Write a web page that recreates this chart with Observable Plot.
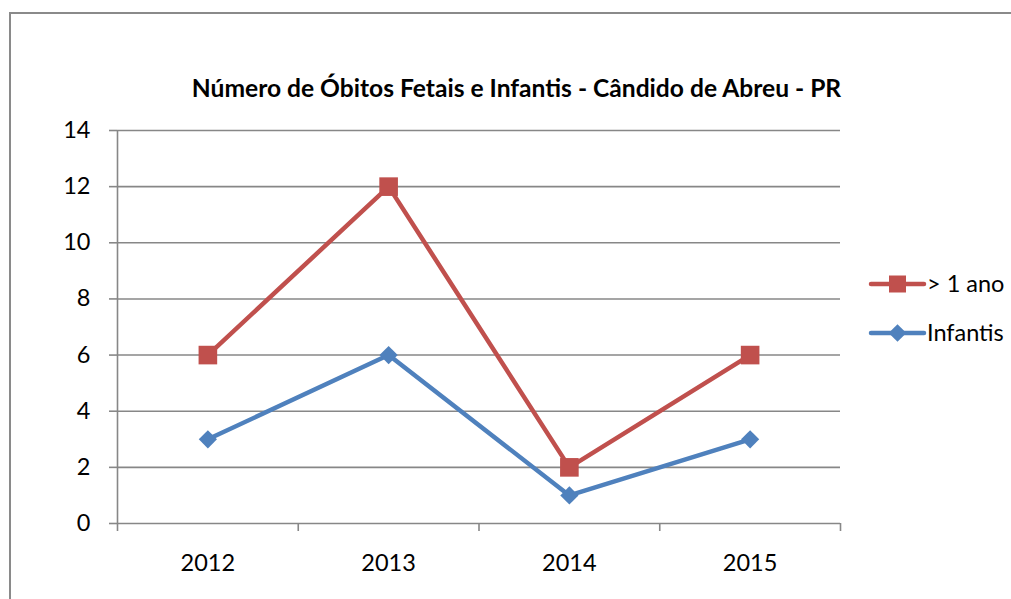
<!DOCTYPE html>
<html>
<head>
<meta charset="utf-8">
<script src="https://cdn.jsdelivr.net/npm/d3@7"></script>
<script src="https://cdn.jsdelivr.net/npm/@observablehq/plot@0.6"></script>
<style>
  html, body { margin: 0; padding: 0; background: #fff; }
  #wrap { position: relative; width: 1011px; height: 599px; overflow: hidden; font-family: Lato, "Open Sans", sans-serif; }
  #frame { position: absolute; left: 9px; top: 12px; width: 1100px; height: 700px; border-top: 2px solid #8a8a8a; border-left: 2px solid #8a8a8a; box-sizing: border-box; }
  #chart { position: absolute; left: 0; top: 0; }
  #title { position: absolute; left: 0; top: 73px; width: 1033px; text-align: center; font-weight: bold; font-size: 24.6px; line-height: 30px; color: #000; white-space: nowrap; }
  #legend { position: absolute; left: 0; top: 0; }
</style>
</head>
<body>
<div id="wrap">
  <div id="frame"></div>
  <div id="chart"></div>
  <div id="title"></div>
  <svg id="legend" width="1011" height="599"></svg>
</div>
<script>
const titleText = "Número de Óbitos Fetais e Infantis - Cândido de Abreu - PR";
const years = [2012, 2013, 2014, 2015];
const series = ["> 1 ano", "Infantis"];
const maiorUmAno = [6, 12, 2, 6];
const infantis = [3, 6, 1, 3];
const colors = ["#C0504D", "#4F81BD"];
const yTicks = [0, 2, 4, 6, 8, 10, 12, 14];

const boundaries = [...years.map(y => y - 0.5), years[years.length - 1] + 0.5];
const data = [
  ...years.map((y, i) => ({year: y, value: maiorUmAno[i], series: series[0]})),
  ...years.map((y, i) => ({year: y, value: infantis[i], series: series[1]}))
];
const gridColor = "#878787";
const fontSize = 23.5;

document.getElementById("title").textContent = titleText;

const plot = Plot.plot({
  width: 1011,
  height: 599,
  marginLeft: 117,
  marginRight: 171,
  marginTop: 130,
  marginBottom: 76,
  style: {fontFamily: "Lato, 'Open Sans', sans-serif", fontSize: fontSize + "px", color: "#000", background: "transparent"},
  x: {type: "linear", domain: [boundaries[0], boundaries[boundaries.length - 1]]},
  y: {domain: [0, 14]},
  color: {domain: series, range: colors},
  marks: [
    Plot.gridY(yTicks, {stroke: gridColor, strokeOpacity: 1, strokeWidth: 1.6}),
    Plot.axisY(yTicks, {tickSize: 8, tickPadding: 19, stroke: gridColor, strokeWidth: 1.6, label: null, fontSize: fontSize, fill: "#000"}),
    Plot.ruleX([boundaries[0]], {stroke: gridColor, strokeWidth: 1.6}),
    Plot.axisX(boundaries, {tickSize: 8, tickFormat: () => "", stroke: gridColor, strokeWidth: 1.6, label: null}),
    Plot.axisX(years, {tickSize: 0, tickPadding: 31, tickFormat: d => String(d), label: null, fontSize: fontSize, fill: "#000"}),
    Plot.line(data, {x: "year", y: "value", z: "series", stroke: "series", strokeWidth: 4.5}),
    Plot.dot(data.filter(d => d.series === series[0]), {x: "year", y: "value", symbol: "square", r: 10.5, fill: colors[0], stroke: "none"}),
    Plot.dot(data.filter(d => d.series === series[1]), {x: "year", y: "value", symbol: "diamond2", r: 8.2, fill: colors[1], stroke: "none"})
  ]
});
document.getElementById("chart").appendChild(plot);

// Legend
const leg = d3.select("#legend");
const legendRows = [
  {name: series[0], color: colors[0], symbol: d3.symbolSquare, size: 17 * 17, y: 284},
  {name: series[1], color: colors[1], symbol: d3.symbolDiamond2, size: 200, y: 333}
];
legendRows.forEach(r => {
  const g = leg.append("g").attr("transform", `translate(0,${r.y})`);
  g.append("line").attr("x1", 871).attr("x2", 924).attr("y1", 0).attr("y2", 0)
    .attr("stroke", r.color).attr("stroke-width", 4.5).attr("stroke-linecap", "round");
  g.append("path").attr("d", d3.symbol(r.symbol, r.size)()).attr("transform", "translate(897.5,0)").attr("fill", r.color);
  g.append("text").attr("x", 927).attr("y", 0).attr("dy", "0.35em")
    .attr("font-family", "Lato, 'Open Sans', sans-serif").attr("font-size", fontSize).attr("fill", "#000").text(r.name);
});
</script>
</body>
</html>
